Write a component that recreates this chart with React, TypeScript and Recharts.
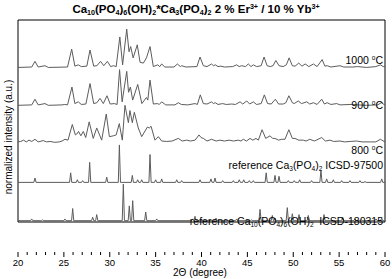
import { LineChart, Line, XAxis, YAxis, ReferenceLine } from "recharts";

type Pt = [number, number];

// measured patterns: [2theta, intensity above own baseline]
const trace1000: Pt[] = [
  [20, 0], [21.5, 0.5], [21.85, 7], [22.2, 0.5], [22.94, 2], [23.3, 0], [25.4, 0.5], [25.85, 21], [26.2, 1.5],
  [26.57, 3], [26.9, 1], [27.5, 1.5], [27.85, 20], [28.25, 1.5], [28.6, 2], [29.0, 7], [29.35, 2], [29.74, 7],
  [30.1, 1], [30.4, 2], [30.7, 1], [31.1, 35], [31.4, 3], [31.85, 44], [32.1, 18], [32.28, 24], [32.55, 11],
  [33.0, 26], [33.3, 6], [33.66, 5], [34.0, 11], [34.39, 24], [34.75, 1], [35.22, 3], [35.45, 1], [35.66, 4],
  [36.0, 0.5], [37.0, 0.5], [37.37, 4], [37.7, 1], [37.84, 2], [38.3, 0.5], [39.5, 1], [39.84, 12], [40.2, 2],
  [40.6, 1], [41.1, 4], [41.3, 2], [41.5, 3], [41.8, 1], [42.1, 1.5], [42.5, 0.5], [43.4, 1], [43.83, 3],
  [44.1, 1], [44.38, 2], [44.8, 1], [45.1, 4], [45.4, 1], [45.65, 3], [46.0, 1], [46.5, 2], [46.82, 12],
  [47.15, 2], [47.5, 1], [47.8, 2], [48.1, 8], [48.45, 2], [48.9, 1], [49.25, 3], [49.55, 11], [49.9, 2],
  [50.2, 1.5], [50.6, 5], [50.95, 1.5], [51.3, 4], [51.7, 1], [52.2, 4], [52.6, 1], [53.15, 9], [53.45, 1.5],
  [53.7, 2], [54.1, 0.5], [55.1, 2], [55.5, 0.5], [56.5, 0.5], [57.0, 1], [58.0, 0], [59.0, 1], [59.5, 3],
  [59.8, 1], [60, 1],
];

const trace900: Pt[] = [
  [20, 0], [21.5, 0.5], [21.85, 7], [22.2, 0.5], [22.94, 2], [23.3, 0], [24.8, 0.5], [25.1, 1], [25.4, 0.5],
  [25.88, 21], [26.2, 2], [26.57, 4], [26.9, 1], [27.4, 1.5], [27.85, 25], [28.25, 2], [28.6, 3], [28.94, 8],
  [29.3, 2], [29.7, 11], [30.05, 1.5], [30.5, 2], [30.8, 1], [31.07, 41], [31.35, 4], [31.85, 39], [32.05, 15],
  [32.25, 21], [32.5, 6], [33.05, 24], [33.5, 2], [34.0, 9], [34.15, 6], [34.39, 29], [34.75, 1.5], [35.2, 2],
  [35.4, 1], [35.66, 4], [36.1, 0.5], [37.1, 0.5], [37.47, 3], [37.8, 1], [38.5, 0.5], [39.3, 2], [39.55, 1],
  [39.87, 12], [40.2, 2], [40.6, 1.5], [41.1, 4], [41.3, 2], [41.5, 3], [41.8, 1], [42.3, 2], [42.7, 1],
  [43.3, 1.5], [43.7, 1], [44.2, 4], [44.5, 1.5], [44.93, 5], [45.25, 1.5], [45.65, 4], [46.0, 1], [46.5, 2],
  [46.85, 12], [47.2, 2], [47.6, 1.5], [48.05, 7], [48.4, 1.5], [48.9, 1.5], [49.2, 3], [49.52, 11], [49.9, 3],
  [50.1, 2], [50.55, 5], [50.9, 2], [51.47, 4], [51.8, 1.5], [52.2, 3], [52.6, 1], [53.1, 7], [53.4, 1.5],
  [53.7, 3], [54.1, 1], [54.74, 2], [55.1, 0.5], [56.2, 1], [57.0, 0.5], [58.0, 0], [59.2, 0.5], [59.6, 3],
  [59.9, 1], [60, 1],
];

const trace800: Pt[] = [
  [20, 1], [20.3, 1.5], [20.6, 3], [20.9, 1], [21.2, 3], [21.5, 1.5], [21.85, 4], [22.2, 1], [22.76, 2.5],
  [23.1, 1], [23.5, 1.5], [24.0, 0.5], [24.5, 1], [24.8, 2], [25.12, 4], [25.45, 3], [25.92, 21], [26.25, 9],
  [26.4, 10], [26.6, 13], [26.85, 8], [27.12, 13], [27.38, 6], [27.76, 24], [28.2, 5], [28.58, 17], [29.12, 3],
  [29.62, 33], [29.96, 7], [30.39, 8], [30.7, 9], [31.04, 22], [31.37, 3], [31.66, 43], [32.03, 23], [32.2, 37],
  [32.46, 23], [32.68, 35], [33.11, 17], [33.48, 7], [34.1, 18], [34.31, 17], [34.5, 19], [34.93, 3], [35.3, 7],
  [35.66, 2], [36.2, 1.5], [36.8, 2], [37.47, 5], [37.9, 2], [38.38, 3], [38.8, 2], [39.3, 3], [39.73, 9],
  [39.95, 6], [40.2, 5], [40.6, 2], [41.1, 4], [41.6, 2], [42.0, 3], [42.5, 2], [43.0, 3], [43.5, 2], [44.0, 3],
  [44.3, 2], [44.56, 4], [44.9, 2], [45.29, 5], [45.6, 3], [45.94, 5], [46.2, 3], [46.6, 15], [47.0, 5],
  [47.47, 8], [47.75, 5], [48.01, 5], [48.4, 3], [48.74, 4], [49.1, 4], [49.52, 15], [49.9, 5], [50.19, 5],
  [50.6, 3], [51.1, 3], [51.4, 2], [51.8, 4], [52.3, 2], [53.1, 6], [53.5, 2], [54.0, 3], [54.4, 1.5], [55.1, 2],
  [55.6, 1], [56.2, 1.5], [56.9, 2], [57.5, 1], [58.4, 1], [59.0, 1], [59.5, 4], [59.9, 1.5], [60, 1.5],
];

// reference line positions: [2theta, intensity]
const tcpPeaks: Pt[] = [
  [21.85, 5], [25.74, 11], [26.47, 3], [27.05, 2], [27.81, 23], [29.67, 6], [31.05, 43], [32.46, 8], [33.04, 3],
  [33.48, 3], [34.39, 32], [35.0, 3], [35.66, 4], [37.3, 3], [37.84, 2], [39.84, 3], [41.03, 4], [41.47, 5],
  [42.31, 2], [43.47, 2], [44.12, 3], [44.6, 3], [45.21, 2], [45.65, 2], [47.05, 11], [48.01, 8], [48.45, 7],
  [49.46, 2], [50.11, 2], [50.7, 3], [52.0, 2], [53.02, 14], [53.64, 4], [54.37, 3], [55.28, 2], [56.18, 2],
  [57.27, 2], [57.82, 1], [59.64, 4],
];

const hapPeaks: Pt[] = [
  [21.49, 2], [22.69, 1], [25.12, 2], [25.96, 14], [28.14, 4], [28.58, 7], [31.48, 42], [32.13, 17], [32.5, 23],
  [33.92, 10], [35.12, 2], [39.04, 2], [39.29, 5], [41.58, 3], [42.0, 1], [43.83, 2], [45.47, 1], [46.38, 13],
  [47.72, 6], [48.0, 3], [49.35, 15], [49.9, 8], [50.63, 7], [51.64, 6], [53.35, 7], [55.39, 4], [56.73, 2],
  [57.46, 1], [59.02, 2], [59.64, 3],
];

const offsets = [177.5, 134, 91, 45.5, 1.5];
const majorTicks = [20, 25, 30, 35, 40, 45, 50, 55, 60];
const allTicks = Array.from({ length: 41 }, (_, i) => 20 + i);

const W = 392;
const H = 279;
const margin = { top: 20, right: 7, bottom: 27, left: 18 };
const plotBottom = H - margin.bottom;
const font = "'Liberation Sans', Arial, sans-serif";
const lineColor = "#5c5c5c";

function sticks(peaks: Pt[], w = 0.12): Pt[] {
  const pts: Pt[] = [[20, 0]];
  peaks.forEach(([x, h]) => pts.push([x - w, 0], [x, h], [x + w, 0]));
  pts.push([60, 0]);
  return pts;
}

const series = [trace1000, trace900, trace800, sticks(tcpPeaks), sticks(hapPeaks)].map((pts, i) =>
  pts.map(([x, y]) => ({ x, y: y + offsets[i] }))
);

function XTick(props: any) {
  const { x, payload } = props;
  const major = majorTicks.includes(payload.value);
  return (
    <g>
      <line x1={x} x2={x} y1={plotBottom} y2={plotBottom + (major ? 5 : 3)} stroke="#000" />
      {major && (
        <text x={x} y={plotBottom + 14} textAnchor="middle" fontSize={9.5} fontFamily={font} fill="#000">
          {payload.value}
        </text>
      )}
    </g>
  );
}

const Sub = ({ children }: { children: any }) => (
  <span style={{ fontSize: "0.62em", verticalAlign: "-0.3em", lineHeight: 0 }}>{children}</span>
);
const Sup = ({ children }: { children: any }) => (
  <span style={{ fontSize: "0.62em", verticalAlign: "0.55em", lineHeight: 0 }}>{children}</span>
);

const labels = [
  { y: 60, node: <>1000 <Sup>o</Sup>C</> },
  { y: 105, node: <>900 <Sup>o</Sup>C</> },
  { y: 150, node: <>800 <Sup>o</Sup>C</> },
  { y: 165, node: <>reference Ca<Sub>3</Sub>(PO<Sub>4</Sub>)<Sub>2</Sub> ICSD-97500</> },
  { y: 221, node: <>reference Ca<Sub>10</Sub>(PO<Sub>4</Sub>)<Sub>6</Sub>(OH)<Sub>2</Sub>&nbsp; ICSD-180315</> },
];

export default function App() {
  return (
    <div style={{ position: "relative", width: W, height: H, background: "#fff", fontFamily: font, color: "#000" }}>
      <style>{"body{margin:0}"}</style>
      <LineChart width={W} height={H} margin={margin}>
        <XAxis
          type="number"
          dataKey="x"
          domain={[20, 60]}
          ticks={allTicks}
          interval={0}
          tick={<XTick />}
          tickLine={false}
          axisLine={{ stroke: "#000" }}
          allowDataOverflow
        />
        <YAxis type="number" domain={[0, 232]} hide allowDataOverflow />
        <ReferenceLine x={20} stroke="#000" />
        <ReferenceLine x={60} stroke="#000" />
        <ReferenceLine y={232} stroke="#000" />
        {series.map((rows, i) => (
          <Line
            key={i}
            data={rows}
            dataKey="y"
            type="linear"
            stroke={lineColor}
            strokeWidth={1}
            dot={false}
            isAnimationActive={false}
          />
        ))}
      </LineChart>
      <div
        style={{
          position: "absolute", left: 0, top: 2, width: W, textAlign: "center",
          fontSize: 11.5, fontWeight: "bold", lineHeight: "14px", whiteSpace: "nowrap",
        }}
      >
        Ca<Sub>10</Sub>(PO<Sub>4</Sub>)<Sub>6</Sub>(OH)<Sub>2</Sub>*Ca<Sub>3</Sub>(PO<Sub>4</Sub>)<Sub>2</Sub> 2 % Er
        <Sup>3+</Sup> / 10 % Yb<Sup>3+</Sup>
      </div>
      {labels.map((l, i) => (
        <div
          key={i}
          style={{
            position: "absolute", right: 9, top: l.y - 6, lineHeight: "12px", fontSize: 10.5, whiteSpace: "nowrap",
          }}
        >
          {l.node}
        </div>
      ))}
      <svg width={W} height={H} style={{ position: "absolute", left: 0, top: 0, pointerEvents: "none" }}>
        <text transform="translate(12,137) rotate(-90)" textAnchor="middle" fontSize={10} fontFamily={font} fill="#000">
          normalized intensity (a.u.)
        </text>
        <text x={200} y={276} textAnchor="middle" fontSize={10} fontFamily={font} fill="#000">
          2Θ (degree)
        </text>
      </svg>
    </div>
  );
}
